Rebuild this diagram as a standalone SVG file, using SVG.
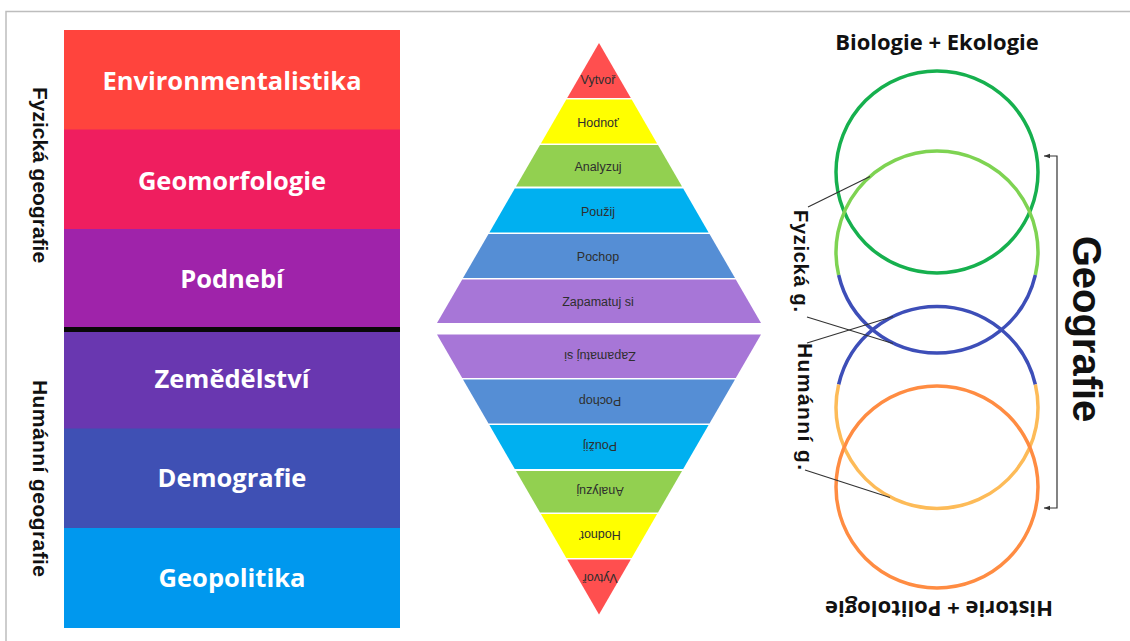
<svg xmlns="http://www.w3.org/2000/svg" width="1130" height="641" viewBox="0 0 1130 641">
<defs>
<style>
.band-label{font-family:"Open Sans","Liberation Sans",sans-serif;font-weight:700;font-size:25.5px;fill:#fff;text-anchor:middle}
.side{font-family:"Liberation Sans",Arial,sans-serif;font-weight:700;font-size:21px;fill:#111;text-anchor:middle}
.big{font-family:"Liberation Sans",Arial,sans-serif;font-weight:700;font-size:40px;fill:#111;text-anchor:middle}
.pyr{font-family:"Liberation Sans",Arial,sans-serif;font-size:12.5px;fill:#2e2e2e;text-anchor:middle}
.title{font-family:"Open Sans","Liberation Sans",sans-serif;font-weight:700;font-size:22px;fill:#111;text-anchor:middle}
.ring{fill:none;stroke-width:3.5}
.lead{fill:none;stroke:#333;stroke-width:1.2}
</style>
<marker id="arr" viewBox="0 0 8 8" refX="8" refY="4" markerWidth="6" markerHeight="6" orient="auto-start-reverse" markerUnits="userSpaceOnUse"><path d="M0,1 L8,4 L0,7 z" fill="#333"/></marker>
</defs>
<rect x="0" y="0" width="1130" height="641" fill="#fff"/>
<rect x="6" y="11.5" width="1130" height="640" fill="none" stroke="#bdbdbd" stroke-width="1.5"/>

<g id="stack">
<g id="environmentalistika"><rect x="64" y="30" width="336" height="100" fill="#ff443d"/><text class="band-label" x="232" y="90">Environmentalistika</text></g>
<g id="geomorfologie"><rect x="64" y="129.5" width="336" height="100" fill="#ef1e5f"/><text class="band-label" x="232" y="189.5">Geomorfologie</text></g>
<g id="podnebi"><rect x="64" y="229" width="336" height="99" fill="#9f23aa"/><text class="band-label" x="232" y="288">Podnebí</text></g>
<rect id="divider" x="64" y="327" width="336" height="5" fill="#080808"/>
<g id="zemedelstvi"><rect x="64" y="332" width="336" height="97" fill="#6937b0"/><text class="band-label" x="232" y="388">Zemědělství</text></g>
<g id="demografie"><rect x="64" y="428.5" width="336" height="100" fill="#3f50b4"/><text class="band-label" x="232" y="486.5">Demografie</text></g>
<g id="geopolitika"><rect x="64" y="528" width="336" height="100" fill="#0098ee"/><text class="band-label" x="232" y="586.5">Geopolitika</text></g>
</g>

<g id="label-fyzicka-geografie"><text class="side" transform="translate(32.5,175) rotate(90)">Fyzická geografie</text></g>
<g id="label-humanni-geografie"><text class="side" transform="translate(32.5,478.5) rotate(90)" textLength="197">Humánní geografie</text></g>

<g id="pyramid-top">
<g id="top-vytvor"><polygon points="599,43 630.8,98 567.2,98" fill="#ff4f4f"/><text class="pyr" x="598" y="83.5">Vytvoř</text></g>
<g id="top-hodnot"><polygon points="566.3,99.5 631.7,99.5 657.1,143.5 540.9,143.5" fill="#ffff00"/><text class="pyr" x="598" y="127">Hodnoť</text></g>
<g id="top-analyzuj"><polygon points="540,145 658,145 682,186.5 516,186.5" fill="#92d050"/><text class="pyr" x="598" y="171">Analyzuj</text></g>
<g id="top-pouzij"><polygon points="514.8,188.5 683.2,188.5 708.6,232.5 489.4,232.5" fill="#00b0f0"/><text class="pyr" x="598" y="216">Použij</text></g>
<g id="top-pochop"><polygon points="488.5,234 709.5,234 735,278 463,278" fill="#558ed5"/><text class="pyr" x="598" y="261">Pochop</text></g>
<g id="top-zapamatuj"><polygon points="462.2,279.5 735.8,279.5 761,323 437,323" fill="#a776d7"/><text class="pyr" x="598" y="306">Zapamatuj si</text></g>
</g>

<g id="pyramid-bottom" transform="rotate(180 599 328.75)">
<g id="bottom-vytvor"><polygon points="599,43 630.8,98 567.2,98" fill="#ff4f4f"/><text class="pyr" x="598" y="83.5">Vytvoř</text></g>
<g id="bottom-hodnot"><polygon points="566.3,99.5 631.7,99.5 657.1,143.5 540.9,143.5" fill="#ffff00"/><text class="pyr" x="598" y="127">Hodnoť</text></g>
<g id="bottom-analyzuj"><polygon points="540,145 658,145 682,186.5 516,186.5" fill="#92d050"/><text class="pyr" x="598" y="171">Analyzuj</text></g>
<g id="bottom-pouzij"><polygon points="514.8,188.5 683.2,188.5 708.6,232.5 489.4,232.5" fill="#00b0f0"/><text class="pyr" x="598" y="216">Použij</text></g>
<g id="bottom-pochop"><polygon points="488.5,234 709.5,234 735,278 463,278" fill="#558ed5"/><text class="pyr" x="598" y="261">Pochop</text></g>
<g id="bottom-zapamatuj"><polygon points="462.2,279.5 735.8,279.5 761,323 437,323" fill="#a776d7"/><text class="pyr" x="598" y="306">Zapamatuj si</text></g>
</g>

<g id="title-biologie"><text class="title" x="937" y="50">Biologie + Ekologie</text></g>
<g id="title-historie"><text class="title" transform="translate(939,601) rotate(180)">Historie + Politologie</text></g>

<g id="ring-biologie"><circle class="ring" cx="937" cy="172" r="101" stroke="#16b04e"/></g>
<g id="ring-fyzicka">
<path class="ring" d="M838.65,275 A101,101 0 1 1 1035.35,275" stroke="#7ed352"/>
<path class="ring" d="M1035.35,275 A101,101 0 0 1 838.65,275" stroke="#3d4eb8"/>
</g>
<g id="ring-humanni">
<path class="ring" d="M838.65,384.5 A101,101 0 0 1 1035.35,384.5" stroke="#3d4eb8"/>
<path class="ring" d="M1035.35,384.5 A101,101 0 1 1 838.65,384.5" stroke="#fdbb58"/>
</g>
<g id="ring-historie"><circle class="ring" cx="937" cy="487" r="101" stroke="#ff8c42"/></g>

<g id="label-fyzicka-g"><text class="side" transform="translate(794,261) rotate(90)" style="font-size:20px" textLength="102">Fyzická g.</text></g>
<g id="label-humanni-g"><text class="side" transform="translate(797.5,406.5) rotate(90)" textLength="127">Humánní g.</text></g>
<g id="label-geografie"><text class="big" transform="translate(1073,329) rotate(90)">Geografie</text></g>

<g id="connectors">
<path class="lead" d="M808,207 L870,176.5"/>
<path class="lead" d="M807,317 L893,343.5"/>
<path class="lead" d="M807,343 L893,316.5"/>
<path class="lead" d="M805,470 L890,497.5"/>
<path class="lead" d="M1044,156 H1057 V508 H1044" marker-start="url(#arr)" marker-end="url(#arr)"/>
</g>
</svg>
